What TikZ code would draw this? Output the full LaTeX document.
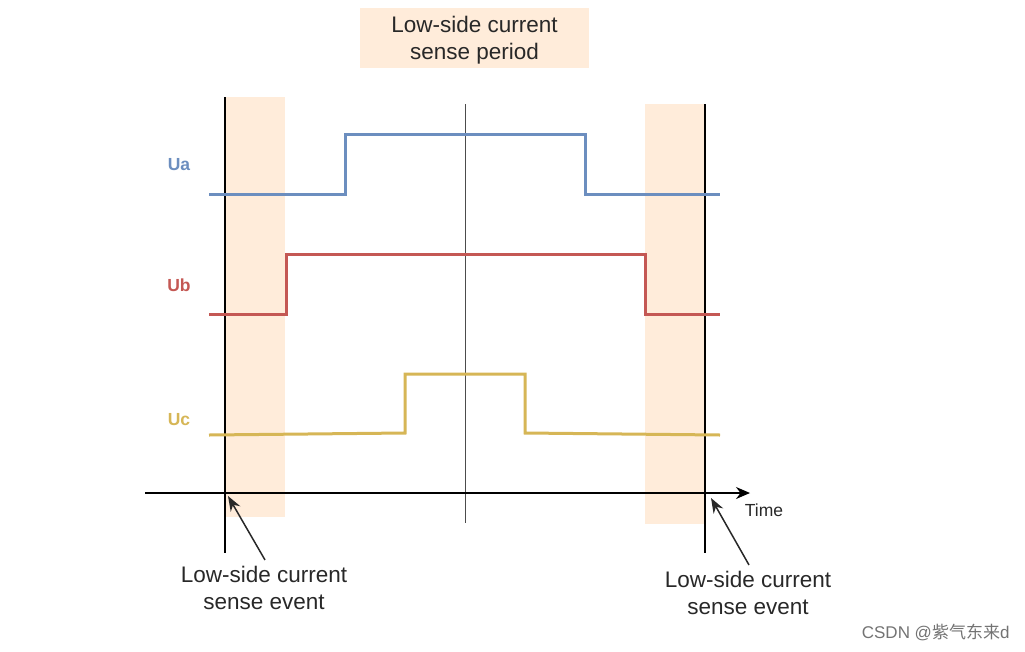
\documentclass[tikz,border=0pt]{standalone}
\usepackage{fontspec}
\setmainfont{Liberation Sans}
\newfontfamily\cjkfont{Noto Sans CJK SC}
\usetikzlibrary{arrows.meta}
\definecolor{peach}{RGB}{255,236,218}
\definecolor{ublue}{RGB}{108,142,191}
\definecolor{ured}{RGB}{196,88,84}
\definecolor{uyellow}{RGB}{214,182,86}
\definecolor{txt}{RGB}{40,40,40}
\tikzset{
  band/.style={fill=peach, draw=none},
  marker/.style={draw=black, line width=1.4pt},
  wave/.style={line width=3pt, line join=miter},
  siglabel/.style={font=\bfseries\fontsize{17.5}{20}\selectfont, anchor=center},
  evlabel/.style={font=\fontsize{22.5}{26.5}\selectfont, text=txt, align=center, anchor=center},
  pointer/.style={draw=txt, line width=1.5pt, -{Stealth[length=15pt,width=11pt]}},
}
\begin{document}
\begin{tikzpicture}[x=1pt,y=-1pt]
\useasboundingbox (0,0) rectangle (1025,651);
% bands
\fill[band] (225,97) rectangle (285,517);
\fill[band] (645,104) rectangle (705,524);
% top label
\fill[band] (360,8) rectangle (589,68);
\node[evlabel] (period) at (474.5,40) {Low-side current\\sense period};
% vertical lines
\coordinate (lt) at (225,97);  \coordinate (lb) at (225,553);
\coordinate (ct) at (465,104); \coordinate (cb) at (465,523);
\coordinate (rt) at (705,104); \coordinate (rb) at (705,553);
\draw[marker] (lt) -- (lb);
\draw[draw=black!70, line width=1pt] (ct) -- (cb);
\draw[marker] (rt) -- (rb);
% waveforms
\draw[wave, ublue] (209,194) -- (345,194) -- (345,134) -- (585,134) -- (585,194) -- (720,194);
\draw[wave, ured] (209,314) -- (286,314) -- (286,254) -- (645,254) -- (645,314) -- (720,314);
\draw[wave, uyellow] (209,435) -- (405,433) -- (405,374) -- (525,374) -- (525,433) -- (720,435);
% signal labels
\node[siglabel, text=ublue] (ua) at (179,165) {Ua};
\node[siglabel, text=ured] (ub) at (179,285) {Ub};
\node[siglabel, text=uyellow] (uc) at (179,420) {Uc};
% time axis
\coordinate (ax0) at (145,493);
\coordinate (ax1) at (750,493);
\draw[draw=black, line width=1.4pt, -{Stealth[length=14pt,width=12pt]}] (ax0) -- (ax1);
\node[font=\fontsize{17.5}{20}\selectfont, text=txt] (time) at (764,510) {Time};
% event labels
\node[evlabel] (evl) at (264,588) {Low-side current\\sense event};
\node[evlabel] (evr) at (748,593) {Low-side current\\sense event};
\coordinate (pl) at (228,496);
\coordinate (pr) at (711,498);
\draw[pointer] (evl.north) ++(1,-3) coordinate (evlt) (evlt) -- (pl);
\draw[pointer] (evr.north) ++(1,-3) coordinate (evrt) (evrt) -- (pr);
% watermark
\node[font=\fontsize{17}{20}\selectfont, text=black!55, anchor=east] (wm) at (1013,632) {CSDN @{\cjkfont 紫气东来}d};
\end{tikzpicture}
\end{document}
